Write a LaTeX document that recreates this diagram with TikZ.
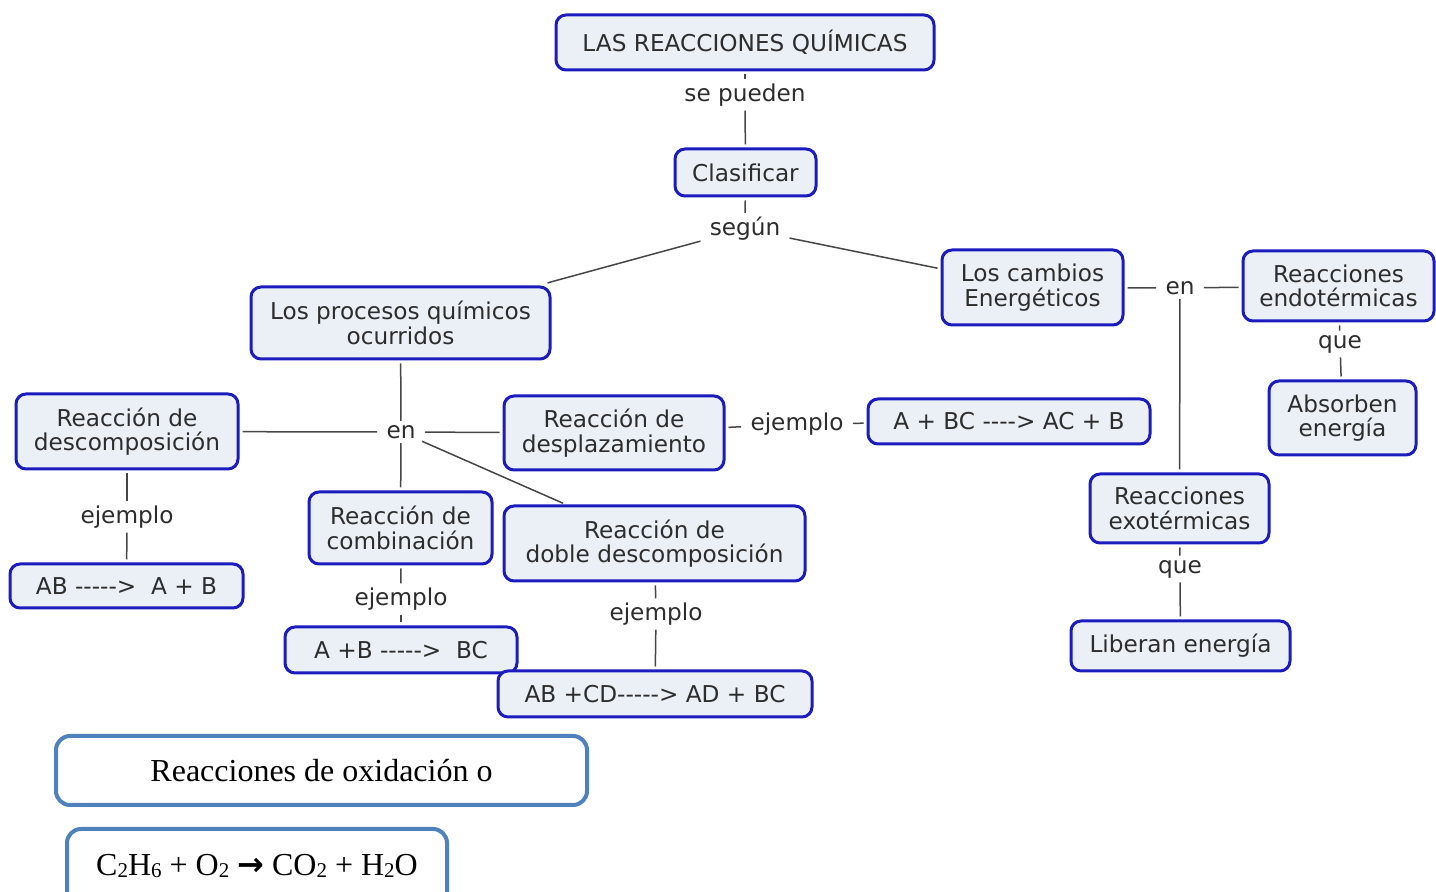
\documentclass[tikz,border=0pt]{standalone}
\usepackage{fontspec}
\setmainfont{DejaVu Sans}
\newfontfamily\tnr{Liberation Serif}
\definecolor{boxfill}{RGB}{234,240,246}
\definecolor{boxdraw}{RGB}{28,28,190}
\definecolor{txt}{RGB}{45,45,45}
\definecolor{lnk}{RGB}{70,70,70}
\definecolor{wblue}{RGB}{79,129,189}
\newcommand{\sbs}[1]{\raisebox{-0.1ex}{\fontsize{10.5}{10.5}\selectfont #1}}
\begin{document}
\begin{tikzpicture}[x=0.5pt,y=-0.5pt,
 cbox/.style={draw=boxdraw, fill=boxfill, line width=1.5pt, rounded corners=5pt, align=center, text=txt, font=\fontsize{11.6}{12.2}\selectfont, inner sep=0pt},
 lbl/.style={fill=white, text=txt, font=\fontsize{11.6}{12.2}\selectfont, inner xsep=3pt, inner ysep=0.5pt},
 conn/.style={draw=lnk, line width=0.75pt, shorten <=1.5pt, shorten >=1.5pt},
 wbox/.style={draw=wblue, line width=2pt, rounded corners=7pt, fill=white},
 wtext/.style={font=\tnr\fontsize{16}{18}\selectfont, text=black, inner sep=0pt}
]
\useasboundingbox (0,0) rectangle (1436,892);
\clip (0,0) rectangle (1436,892);

% concept boxes
\node[cbox, minimum width=189pt, minimum height=27.5pt] (top) at (745,42.5) {LAS REACCIONES QUÍMICAS};
\node[cbox, minimum width=70.5pt, minimum height=23.5pt] (clas) at (745.5,172.5) {Clasificar};
\node[cbox, minimum width=149.5pt, minimum height=36pt] (proc) at (400.5,323) {Los procesos químicos\\ocurridos};
\node[cbox, minimum width=90.5pt, minimum height=37.5pt] (camb) at (1032.5,287.5) {Los cambios\\Energéticos};
\node[cbox, minimum width=95.5pt, minimum height=35pt] (endo) at (1338.5,286) {Reacciones\\endotérmicas};
\node[cbox, minimum width=73.5pt, minimum height=37pt] (abs) at (1342.5,418) {Absorben\\energía};
\node[cbox, minimum width=89.5pt, minimum height=34.5pt] (exo) at (1179.5,508.5) {Reacciones\\exotérmicas};
\node[cbox, minimum width=109.5pt, minimum height=25pt] (lib) at (1180.5,646) {Liberan energía};
\node[cbox, minimum width=111pt, minimum height=37.5pt] (desc) at (127,431.5) {Reacción de\\descomposición};
\node[cbox, minimum width=116.5pt, minimum height=22pt] (ab) at (126.5,586) {AB -{}-{}-{}-{}->\ \ A + B};
\node[cbox, minimum width=91.5pt, minimum height=36pt] (comb) at (400.5,528) {Reacción de\\combinación};
\node[cbox, minimum width=116pt, minimum height=23pt] (abc) at (401,650) {A +B -{}-{}-{}-{}->\ \ BC};
\node[cbox, minimum width=150.5pt, minimum height=37.5pt] (doble) at (654.5,543.5) {Reacción de\\doble descomposición};
\node[cbox, minimum width=157pt, minimum height=23pt] (abcd) at (655,694) {AB +CD-{}-{}-{}-{}-> AD + BC};
\node[cbox, minimum width=110pt, minimum height=37pt] (despl) at (614,433) {Reacción de\\desplazamiento};
\node[cbox, minimum width=141pt, minimum height=22.5pt] (abac) at (1009,421.5) {A + BC -{}-{}-{}-> AC + B};

% linking phrases
\node[lbl] (sep) at (745,95) {se pueden};
\node[lbl] (seg) at (745,229) {según};
\node[lbl] (en1) at (401,432) {en};
\node[lbl] (en2) at (1180,288) {en};
\node[lbl] (ej1) at (127,517) {ejemplo};
\node[lbl] (ej2) at (401,599) {ejemplo};
\node[lbl] (ej3) at (656,614) {ejemplo};
\node[lbl] (ej4) at (797,424) {ejemplo};
\node[lbl] (que1) at (1340,344) {que};
\node[lbl] (que2) at (1180,569) {que};

% connectors
\draw[conn] (top) -- (sep);
\draw[conn] (sep) -- (clas);
\draw[conn] (clas) -- (seg);
\draw[conn, shorten >=5pt] (seg) -- (proc);
\draw[conn] (seg) -- (camb);
\draw[conn] (proc) -- (en1);
\draw[conn] (en1) -- (desc);
\draw[conn] (en1) -- (despl);
\draw[conn] (en1) -- (comb);
\draw[conn] (en1) -- (doble);
\draw[conn] (desc) -- (ej1);
\draw[conn] (ej1) -- (ab);
\draw[conn] (comb) -- (ej2);
\draw[conn] (ej2) -- (abc);
\draw[conn] (doble) -- (ej3);
\draw[conn] (ej3) -- (abcd);
\draw[conn] (despl) -- (ej4);
\draw[conn] (ej4) -- (abac);
\draw[conn] (camb) -- (en2);
\draw[conn] (en2) -- (endo);
\draw[conn] (en2) -- (exo);
\draw[conn] (endo) -- (que1);
\draw[conn] (que1) -- (abs);
\draw[conn] (exo) -- (que2);
\draw[conn] (que2) -- (lib);

% bottom boxes
\node[wbox, wtext, minimum width=265.5pt, minimum height=34.5pt] (ox) at (321.5,770.5) {Reacciones de oxidación o};
\draw[wbox] (67,829) rectangle (447,915);
\node[wtext] (eq) at (257,866) {C\sbs{2}H\sbs{6} + O\sbs{2} {\rmfamily\bfseries →} CO\sbs{2} + H\sbs{2}O};
\end{tikzpicture}
\end{document}
